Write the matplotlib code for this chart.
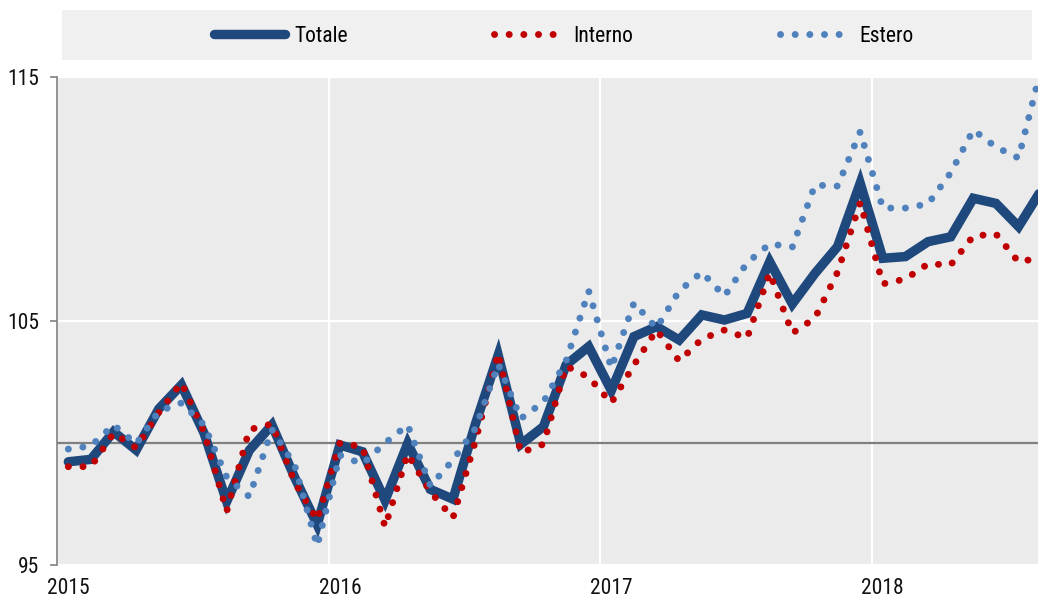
import numpy as np
import matplotlib
matplotlib.use("Agg")
import matplotlib.pyplot as plt
from matplotlib.patches import Rectangle

# Indici mensili gen 2015 - ago 2018
anni = ["2015", "2016", "2017", "2018"]

totale = [99.23, 99.33, 100.46, 99.71, 101.4, 102.38, 100.4, 97.6, 99.7, 100.74,
          98.6, 96.65, 99.92, 99.64, 97.65, 99.98, 98.1, 97.7, 100.8, 103.6,
          99.95, 100.67, 103.2, 103.95, 102.15, 104.36, 104.77, 104.22, 105.25, 105.04,
          105.31, 107.43, 105.7, 106.95, 108.05, 110.65, 107.57, 107.64, 108.25, 108.45,
          110.03, 109.82, 108.87, 110.36]

interno = [99.03, 99.03, 100.4, 99.8, 101.25, 102.47, 100.45, 97.2, 100.55, 100.78,
           98.4, 96.84, 100.0, 99.84, 96.56, 99.55, 98.0, 96.93, 100.1, 103.68,
           99.6, 99.95, 103.15, 102.7, 101.64, 103.2, 104.63, 103.36, 104.26, 104.63,
           104.3, 106.97, 104.5, 105.12, 107.0, 109.85, 106.52, 106.72, 107.34, 107.3,
           108.48, 108.57, 107.42, 107.6]

estero = [99.75, 99.88, 100.74, 99.96, 101.3, 101.64, 100.74, 98.6, 97.8, 100.55,
          99.1, 95.78, 99.5, 99.14, 100.0, 100.74, 98.24, 99.3, 100.6, 103.24,
          101.0, 101.68, 103.36, 106.23, 103.07, 105.74, 104.71, 106.23, 107.0, 106.02,
          107.38, 108.16, 108.03, 110.57, 110.53, 112.75, 109.63, 109.63, 109.8, 111.07,
          112.83, 112.13, 111.68, 115.35]

# punti a meta' mese
mesi = np.arange(len(totale)) + 0.5

plt.rcParams["font.family"] = ["Roboto Condensed", "DejaVu Sans"]

fig = plt.figure(figsize=(10.38, 6.01), dpi=100)
ax = fig.add_axes([57 / 1038, 36 / 601, 981 / 1038, 488 / 601])
ax.set_facecolor("#EBEBEB")

# riquadro legenda
fig.patches.append(Rectangle((62 / 1038, 541 / 601), 970 / 1038, 50 / 601,
                             transform=fig.transFigure, facecolor="#F0F0F0",
                             edgecolor="none", zorder=-1))

ax.axhline(100, color="#808080", lw=1.6, zorder=2)

ax.plot(mesi, totale, color="#1F497D", lw=6.8, solid_capstyle="round",
        solid_joinstyle="miter", label="Totale", zorder=3)
ax.plot(mesi, interno, color="#C00000", lw=5, linestyle=(0, (0.01, 2.1)),
        dash_capstyle="round", label="Interno", zorder=4)
ax.plot(mesi, estero, color="#4F81BD", lw=5, linestyle=(0, (0.01, 2.1)),
        dash_capstyle="round", label="Estero", zorder=5)

ax.set_xlim(0, 981 / 22.625)
ax.set_ylim(95, 115)

ax.set_xticks([0, 12, 24, 36])
ax.set_xticklabels([])
ax.set_xticks([0.5, 12.5, 24.5, 36.5], minor=True)
ax.set_xticklabels(anni, minor=True)
ax.tick_params(axis="x", which="both", length=0, labelsize=15.5, pad=9, colors="#111111")
ax.grid(axis="x", which="major", color="white", lw=1.6, zorder=1)

ax.set_yticks([95, 105, 115])
ax.tick_params(axis="y", length=5, width=1.2, color="#808080", labelsize=15.5,
               pad=8, labelcolor="#111111")
ax.grid(axis="y", color="white", lw=1.6, zorder=1)
ax.set_axisbelow(True)

for s in ["top", "right", "bottom"]:
    ax.spines[s].set_visible(False)
ax.spines["left"].set_color("#808080")
ax.spines["left"].set_linewidth(1.2)

ax.legend(loc="center", bbox_to_anchor=(564 / 1038, 565 / 601),
          bbox_transform=fig.transFigure, ncol=3, frameon=False, fontsize=15.5,
          handlelength=3.3, handletextpad=0.4, columnspacing=6.8)

fig.savefig("out.png", dpi=100)
